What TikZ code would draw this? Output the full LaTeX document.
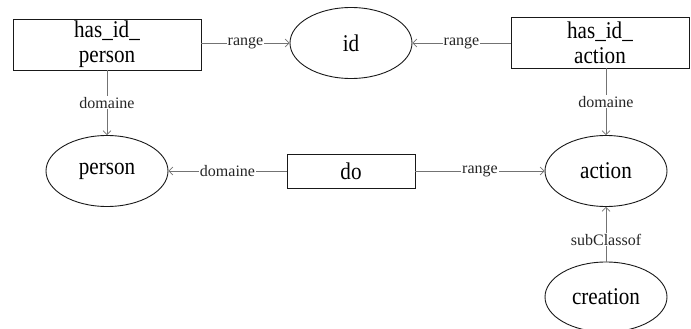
\documentclass[tikz,border=0pt]{standalone}
\usepackage{fontspec}
\setmainfont{Liberation Serif}
\newfontfamily\nodefont[FakeStretch=0.88]{Liberation Serif}
\usetikzlibrary{shapes.geometric,arrows.meta}
\begin{document}
\begin{tikzpicture}[x=1pt,y=-1pt,
  box/.style={draw=black!90,line width=0.9pt,rectangle,inner sep=0pt,align=center,
    font=\nodefont\fontsize{24}{25}\selectfont},
  oval/.style={draw=black!90,line width=0.9pt,ellipse,inner sep=0pt,
    minimum width=122pt,minimum height=71pt,font=\nodefont\fontsize{24}{25}\selectfont},
  link/.style={draw=black!55,line width=0.7pt,-{Straight Barb[length=4pt,width=8pt]}},
  lbl/.style={fill=white,inner sep=1pt,text=black!85,font=\fontsize{16}{18}\selectfont}]
\useasboundingbox (0,0) rectangle (691,329);
\node[box,minimum width=188pt,minimum height=51pt] (hip) at (107,44.5) {has\_id\_\\person};
\node[oval] (id) at (351,43) {id};
\node[box,minimum width=178pt,minimum height=51pt] (hia) at (600,42.5) {has\_id\_\\action};
\node[oval] (person) at (107,171) {person};
\node[box,minimum width=128pt,minimum height=34pt] (do) at (351,171) {do};
\node[oval] (action) at (606,171) {action};
\node[oval,minimum height=70pt] (creation) at (606,297) {creation};

\draw[link] (hip.east |- id) -- node[lbl] {range} (id.west);
\draw[link] (hia.west |- id) -- node[lbl] {range} (id.east);
\draw[link] (hip.south) -- node[lbl] {domaine} (person.north);
\draw[link] (hia.south -| action) -- node[lbl] {domaine} (action.north);
\draw[link] (do.west) -- node[lbl] {domaine} (person.east);
\draw[link] (do.east) -- node[lbl] {range} (action.west);
\draw[link] (creation.north) -- node[lbl,pos=0.4] {subClassof} (action.south);
\end{tikzpicture}
\end{document}
